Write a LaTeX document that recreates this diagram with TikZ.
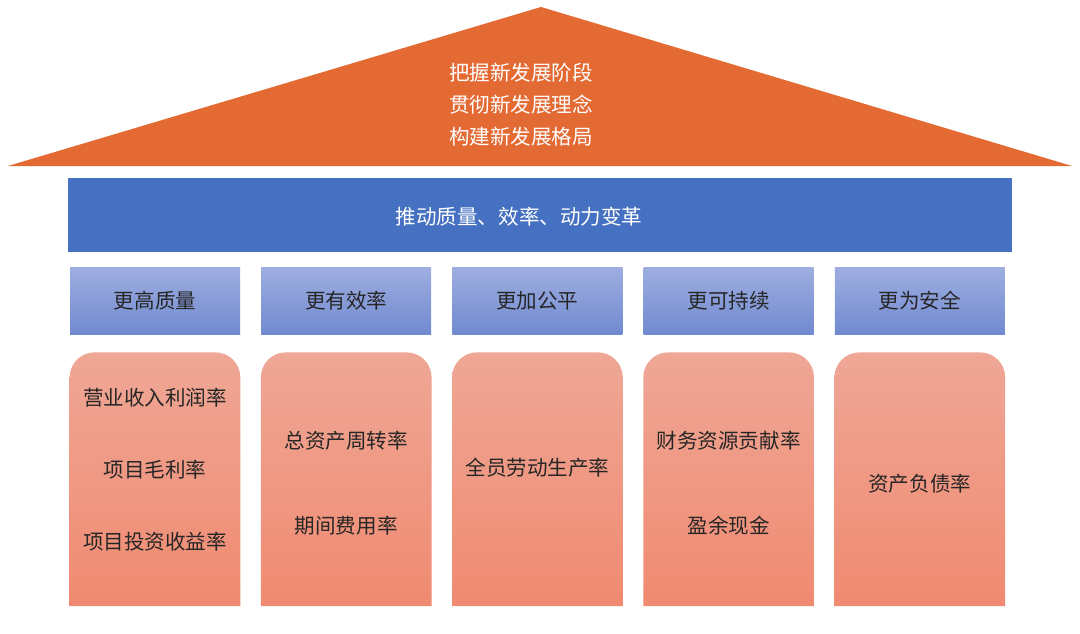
\documentclass[tikz,border=0pt]{standalone}
\usepackage{fontspec}
\newfontfamily\cjk{Noto Sans CJK SC}
\usepackage{tikz}
\usetikzlibrary{positioning,calc}
\definecolor{rooforange}{RGB}{228,106,51}
\definecolor{bandblue}{RGB}{70,112,193}
\definecolor{headtop}{RGB}{158,174,224}
\definecolor{headbot}{RGB}{113,138,208}
\definecolor{pilltop}{RGB}{239,167,150}
\definecolor{pillbot}{RGB}{240,138,113}
\definecolor{inkgray}{RGB}{38,38,38}
\newcommand{\cnfont}{\cjk\fontsize{11.7}{14}\selectfont}

\begin{document}
\begin{tikzpicture}[
    head/.style={top color=headtop, bottom color=headbot,
                 minimum width=3.4cm, minimum height=1.34cm,
                 font=\cnfont, text=inkgray},
    pillar/.style={minimum width=3.4cm, minimum height=5.06cm, inner sep=0pt},
    metric/.style={font=\cnfont, text=inkgray},
    band/.style={fill=bandblue, minimum width=18.88cm, minimum height=1.48cm},
    light/.style={font=\cnfont, text=white, align=center}
  ]
  \path[use as bounding box, fill=white] (0,0) rectangle (21.6,12.66);

  % roof
  \coordinate (apex)  at (10.82,12.52);
  \coordinate (eaveL) at (0.16,9.34);
  \coordinate (eaveR) at (21.44,9.34);
  \fill[rooforange] (eaveL) -- (apex) -- (eaveR) -- cycle;
  \node[light, font=\cjk\fontsize{11.7}{18.2}\selectfont] (goal) at (10.42,10.56)
    {把握新发展阶段\\贯彻新发展理念\\构建新发展格局};

  % band
  \node[band] (band) at (10.8,8.36) {};
  \node[light] (drive) at ($(band.center)+(-0.42,-0.04)$) {推动质量、效率、动力变革};

  % five heads
  \node[head] (h1) at (3.10,6.65) {更高质量};
  \node[head, right=0.41cm of h1] (h2) {更有效率};
  \node[head, right=0.41cm of h2] (h3) {更加公平};
  \node[head, right=0.41cm of h3] (h4) {更可持续};
  \node[head, right=0.41cm of h4] (h5) {更为安全};

  % pillars
  \foreach \i in {1,...,5}{
    \node[pillar, below=0.36cm of h\i] (p\i) {};
    \shade[top color=pilltop, bottom color=pillbot]
      (p\i.south west) [rounded corners=0.5cm] -- (p\i.north west)
      -- (p\i.north east) [sharp corners] -- (p\i.south east) -- cycle;
  }

  % metrics
  \node[metric] (m1a) at ($(p1.north)+(0,-0.9)$)  {营业收入利润率};
  \node[metric] (m1b) at ($(p1.north)+(0,-2.34)$) {项目毛利率};
  \node[metric] (m1c) at ($(p1.north)+(0,-3.78)$) {项目投资收益率};
  \node[metric] (m2a) at ($(p2.north)+(0,-1.76)$) {总资产周转率};
  \node[metric] (m2b) at ($(p2.north)+(0,-3.46)$) {期间费用率};
  \node[metric] (m3a) at ($(p3.north)+(0,-2.3)$)  {全员劳动生产率};
  \node[metric] (m4a) at ($(p4.north)+(0,-1.76)$) {财务资源贡献率};
  \node[metric] (m4b) at ($(p4.north)+(0,-3.46)$) {盈余现金};
  \node[metric] (m5a) at ($(p5.north)+(0,-2.62)$) {资产负债率};
\end{tikzpicture}
\end{document}
